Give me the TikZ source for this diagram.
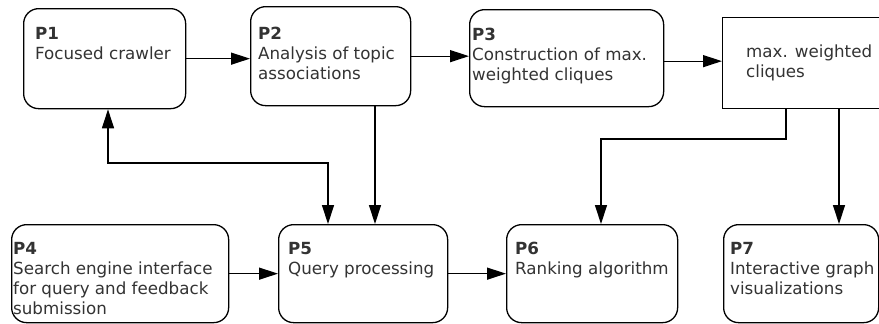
\documentclass[tikz,border=0pt]{standalone}
\usepackage{fontspec}
\setmainfont{DejaVu Sans}
\usetikzlibrary{arrows.meta,positioning}
\tikzstyle{post}=[-{Triangle[length=19pt,width=12pt]},line width=1.3pt]
\tikzstyle{both}=[{Triangle[length=19pt,width=12pt]}-{Triangle[length=19pt,width=12pt]},line width=1.3pt]
\tikzstyle{proc}=[draw,line width=1.3pt,rounded corners=15pt,anchor=north west,inner sep=0pt]
\tikzstyle{store}=[draw,line width=1.3pt,anchor=north west,inner sep=0pt]
\tikzstyle{txt}=[anchor=north west,align=left,inner sep=0pt,text=black!80,
  font=\fontsize{16.7}{20}\selectfont]

\begin{document}
\begin{tikzpicture}[x=1pt,y=-1pt]
            \clip (0,0) rectangle (879,324);
            \fill[white] (0,0) rectangle (879,324);
            % upper row
            \node (p1) [proc, minimum width=162pt, minimum height=100pt] at (23,8) {};
            \node (p2) [proc, minimum width=160pt, minimum height=99pt] at (250,6) {};
            \node (p3) [proc, minimum width=194pt, minimum height=97pt] at (469,9) {};
            \node (mc) [store, minimum width=175pt, minimum height=91pt] at (722,17) {};
            % lower row
            \node (p4) [proc, minimum width=217pt, minimum height=98pt] at (11,224) {};
            \node (p5) [proc, minimum width=169pt, minimum height=98pt] at (278,224) {};
            \node (p6) [proc, minimum width=171pt, minimum height=98pt] at (506,224) {};
            \node (p7) [proc, minimum width=155pt, minimum height=98pt] at (723,224) {};

            \node (t1) [txt] at ([shift={(12pt,-19pt)}]p1.north west) {\textbf{P1}\\Focused crawler};
            \node (t2) [txt] at ([shift={(8pt,-21pt)}]p2.north west) {\textbf{P2}\\Analysis of topic\\associations};
            \node (t3) [txt] at ([shift={(3pt,-19pt)}]p3.north west) {\textbf{P3}\\Construction of max.\\weighted cliques};
            \node (tm) [txt] at ([shift={(24pt,-28pt)}]mc.north west) {max. weighted\\cliques};
            \node (t4) [txt] at ([shift={(2pt,-18pt)}]p4.north west) {\textbf{P4}\\Search engine interface\\for query and feedback\\submission};
            \node (t5) [txt] at ([shift={(10pt,-18pt)}]p5.north west) {\textbf{P5}\\Query processing};
            \node (t6) [txt] at ([shift={(9pt,-18pt)}]p6.north west) {\textbf{P6}\\Ranking algorithm};
            \node (t7) [txt] at ([shift={(7pt,-18pt)}]p7.north west) {\textbf{P7}\\Interactive graph\\visualizations};

            \coordinate (b0) at (108,163);
            \coordinate (b1) at (328,163);
            \coordinate (b2) at (375,0);
            \coordinate (b3) at (786,139);
            \coordinate (b4) at (601,139);
            \coordinate (b5) at (839,0);

            \draw[post] (p1.east) -- (p1.east -| p2.west);
            \draw[post] (p2.east) -- (p2.east -| p3.west);
            \draw[post] ([yshift=-3pt]p3.east) -- ([yshift=-3pt]p3.east -| mc.west);
            \draw[post] (p4.east) -- (p4.east -| p5.west);
            \draw[post] (p5.east) -- (p5.east -| p6.west);
            \draw[post] (b2 |- p2.south) -- (b2 |- p5.north);
            \draw[both] (b0 |- p1.south) -- (b0) -- (b1) -- (b1 |- p5.north);
            \draw[post] (b3 |- mc.south) -- (b3) -- (b4) -- (b4 |- p6.north);
            \draw[post] (b5 |- mc.south) -- (b5 |- p7.north);
        \end{tikzpicture}
\end{document}
